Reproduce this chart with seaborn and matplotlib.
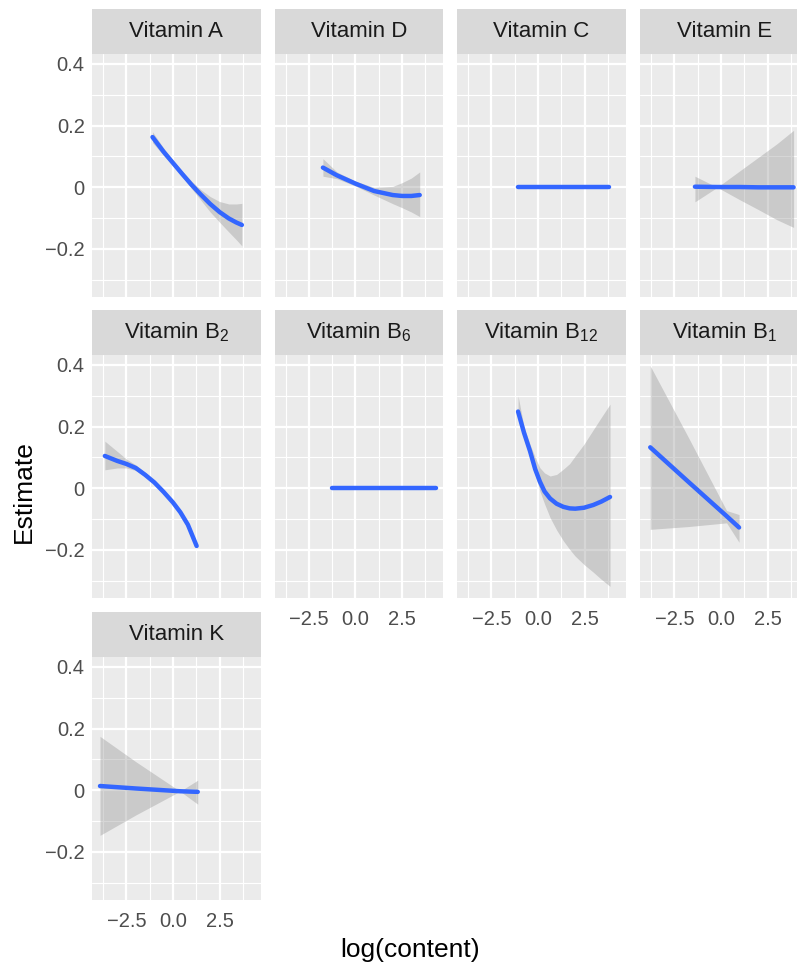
import numpy as np
import seaborn as sns
import matplotlib.pyplot as plt

# panel titles, in facet order (4 per row)
vitamins = ["Vitamin A", "Vitamin D", "Vitamin C", "Vitamin E",
            "Vitamin B$_\\mathregular{2}$", "Vitamin B$_\\mathregular{6}$",
            "Vitamin B$_\\mathregular{12}$", "Vitamin B$_\\mathregular{1}$",
            "Vitamin K"]

# smooth fits: x, fit, lower, upper
a_x = [-1.1, -0.5, 0, 0.5, 1, 1.5, 2, 2.5, 3, 3.4, 3.7]
a_y = [0.163, 0.115, 0.079, 0.043, 0.008, -0.024, -0.054, -0.080, -0.101, -0.114, -0.122]
a_lo = [0.145, 0.103, 0.07, 0.034, -0.004, -0.042, -0.08, -0.113, -0.145, -0.17, -0.19]
a_hi = [0.18, 0.127, 0.088, 0.052, 0.02, -0.008, -0.03, -0.046, -0.054, -0.054, -0.052]

d_x = [-1.75, -1, 0, 1, 2, 2.5, 3, 3.45]
d_y = [0.064, 0.039, 0.012, -0.012, -0.025, -0.028, -0.028, -0.025]
d_lo = [0.036, 0.028, 0.004, -0.025, -0.053, -0.066, -0.08, -0.095]
d_hi = [0.093, 0.05, 0.02, 0.0, 0.003, 0.015, 0.03, 0.05]

c_x = [-1.1, 3.8]
c_y = [0.0, 0.0]
c_lo = [0.0, 0.0]
c_hi = [0.0, 0.0]

e_x = [-1.4, -0.2, 1, 2, 3, 3.9]
e_y = [0.002, 0.001, 0.001, 0.0, 0.0, 0.0]
e_lo = [-0.047, 0.0, -0.04, -0.072, -0.105, -0.13]
e_hi = [0.036, 0.0, 0.053, 0.097, 0.141, 0.185]

b2_x = [-3.66, -3, -2.5, -2, -1.5, -1, -0.5, 0, 0.4, 0.8, 1.27]
b2_y = [0.105, 0.089, 0.079, 0.066, 0.044, 0.019, -0.012, -0.046, -0.078, -0.118, -0.187]
b2_lo = [0.06, 0.066, 0.066, 0.058, 0.038, 0.013, -0.018, -0.052, -0.084, -0.125, -0.194]
b2_hi = [0.153, 0.12, 0.095, 0.076, 0.051, 0.025, -0.006, -0.04, -0.072, -0.111, -0.18]

b6_x = [-1.24, 4.3]
b6_y = [0.0, 0.0]
b6_lo = [0.0, 0.0]
b6_hi = [0.0, 0.0]

b12_x = [-1.07, -0.75, -0.43, -0.15, 0.1, 0.35, 0.65, 1.0, 1.36, 1.7, 2.0, 2.47, 2.97, 3.4, 3.87]
b12_y = [0.249, 0.18, 0.121, 0.062, 0.022, -0.01, -0.033, -0.05, -0.06, -0.065, -0.066,
         -0.063, -0.054, -0.043, -0.028]
b12_lo = [0.24, 0.165, 0.11, 0.045, -0.009, -0.05, -0.095, -0.135, -0.17, -0.198, -0.22,
          -0.247, -0.272, -0.295, -0.318]
b12_hi = [0.30, 0.2, 0.143, 0.1, 0.067, 0.05, 0.04, 0.045, 0.062, 0.08, 0.105, 0.143, 0.19,
          0.23, 0.273]

b1_x = [-3.8, -1.75, 0.3, 0.97]
b1_y = [0.133, 0.021, -0.09, -0.127]
b1_lo = [-0.133, -0.124, -0.112, -0.175]
b1_hi = [0.397, 0.165, -0.072, -0.085]

k_x = [-3.92, -2, 0.38, 1.33]
k_y = [0.014, 0.006, -0.003, -0.005]
k_lo = [-0.146, -0.08, -0.003, -0.045]
k_hi = [0.175, 0.093, -0.003, 0.033]

fits = [(a_x, a_y, a_lo, a_hi), (d_x, d_y, d_lo, d_hi), (c_x, c_y, c_lo, c_hi),
        (e_x, e_y, e_lo, e_hi), (b2_x, b2_y, b2_lo, b2_hi), (b6_x, b6_y, b6_lo, b6_hi),
        (b12_x, b12_y, b12_lo, b12_hi), (b1_x, b1_y, b1_lo, b1_hi), (k_x, k_y, k_lo, k_hi)]

x_major = [-2.5, 0.0, 2.5]
x_minor = [-3.75, -1.25, 1.25, 3.75]
x_labels = ["\u22122.5", "0.0", "2.5"]
y_major = [-0.2, 0.0, 0.2, 0.4]
y_minor = [-0.3, -0.1, 0.1, 0.3]
y_labels = ["\u22120.2", "0", "0.2", "0.4"]

sns.set_style("darkgrid", {"axes.facecolor": "#EBEBEB", "grid.color": "white"})
plt.rcParams["font.family"] = ["Liberation Sans", "DejaVu Sans"]

W, H = 797, 965
fig = plt.figure(figsize=(W / 100, H / 100), dpi=100)


def rect(x, y, w, h):
    return [x / W, 1 - (y + h) / H, w / W, h / H]


col_left = [92, 274.5, 457, 640]
row_top = [9, 310, 612]
pw, sh, ph = 168.5, 45, 243

for i, (name, (fx, fy, flo, fhi)) in enumerate(zip(vitamins, fits)):
    r, c = divmod(i, 4)
    ax = fig.add_axes(rect(col_left[c], row_top[r] + sh, pw, ph))
    st = fig.add_axes(rect(col_left[c], row_top[r], pw, sh))
    st.set_facecolor("#D9D9D9")
    st.set_xticks([])
    st.set_yticks([])
    for s in st.spines.values():
        s.set_visible(False)
    st.text(0.5, 0.5, name, ha="center", va="center", fontsize=16,
            color="#1A1A1A", transform=st.transAxes)

    ax.fill_between(fx, flo, fhi, color="#999999", alpha=0.4, linewidth=0, zorder=2)
    sns.lineplot(x=fx, y=fy, ax=ax, color="#3366FF", linewidth=3.2, zorder=3)

    ax.set_xlim(-4.35, 4.70)
    ax.set_ylim(-0.3557, 0.4324)
    ax.set_xticks(x_major)
    ax.set_xticks(x_minor, minor=True)
    ax.set_yticks(y_major)
    ax.set_yticks(y_minor, minor=True)
    ax.grid(which="major", color="white", linewidth=1.6)
    ax.grid(which="minor", color="white", linewidth=0.8)
    ax.set_axisbelow(True)
    for s in ax.spines.values():
        s.set_visible(False)
    ax.tick_params(which="minor", length=0)
    ax.tick_params(which="major", length=4.3, width=1.1, color="#333333",
                   labelcolor="#4D4D4D", labelsize=14.5)
    ax.tick_params(axis="x", pad=4.5)
    ax.tick_params(axis="y", pad=1)

    bottom = (r == 2) or (r == 1 and c > 0)
    if bottom:
        ax.set_xticklabels(x_labels)
    else:
        ax.set_xticklabels([])
        ax.tick_params(axis="x", which="major", length=0)
    if c == 0:
        ax.set_yticklabels(y_labels)
    else:
        ax.set_yticklabels([])
        ax.tick_params(axis="y", which="major", length=0)

fig.text(24 / W, 1 - 492 / H, "Estimate", rotation=90, ha="center", va="center",
         fontsize=19, color="black")
fig.text(410 / W, 1 - 950 / H, "log(content)", ha="center", va="center",
         fontsize=19, color="black")

fig.savefig("out.png", dpi=100)
